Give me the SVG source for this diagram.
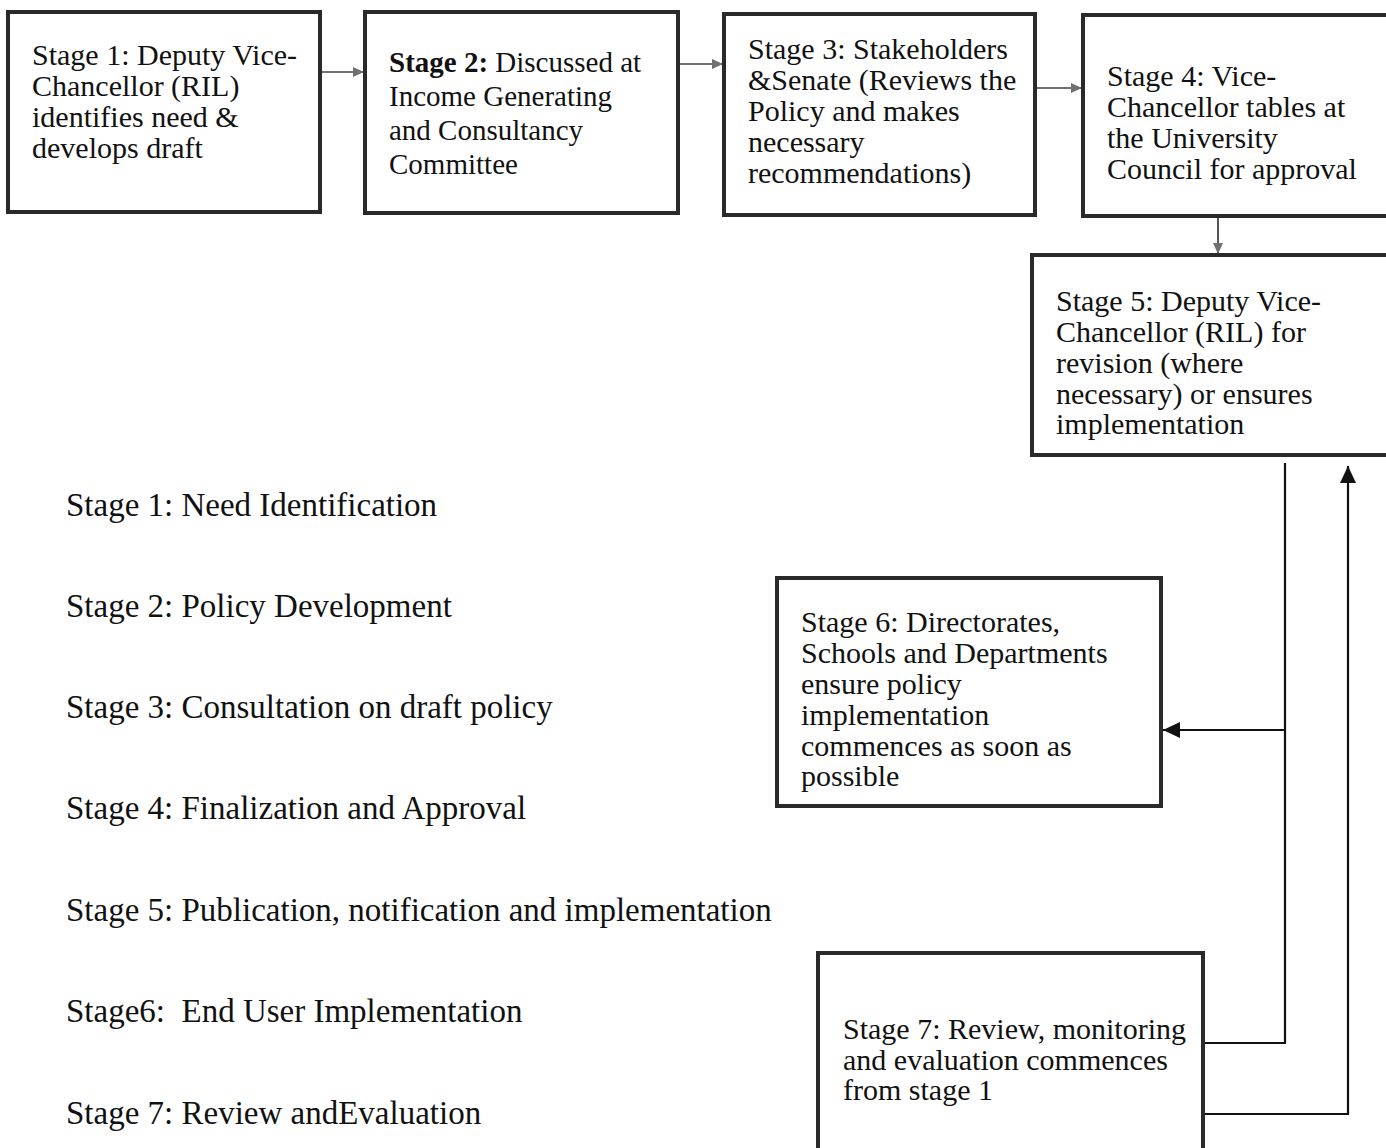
<svg xmlns="http://www.w3.org/2000/svg" width="1386" height="1148" viewBox="0 0 1386 1148">
<defs>
<style>
.box{fill:#fff;stroke:#2a2a2a;stroke-width:4}
.t{font-family:"Liberation Serif",serif;font-size:30px;fill:#111}
.t2{font-family:"Liberation Serif",serif;font-size:29px;fill:#111}
.l{font-family:"Liberation Serif",serif;font-size:33px;fill:#111}
.ga{fill:none;stroke:#707070;stroke-width:1.8}
.ka{fill:none;stroke:#111;stroke-width:2.2}
</style>
<marker id="mg" markerUnits="userSpaceOnUse" markerWidth="12" markerHeight="12" refX="11" refY="6" orient="auto">
<path d="M0,1 L11,6 L0,11 z" fill="#707070"/>
</marker>
<marker id="mk" markerUnits="userSpaceOnUse" markerWidth="18" markerHeight="18" refX="17" refY="9" orient="auto">
<path d="M0,1 L17,9 L0,17 z" fill="#111"/>
</marker>
</defs>
<rect width="1386" height="1148" fill="#fff"/>

<g id="connectors">
<line class="ga" x1="320" y1="72" x2="364" y2="72" marker-end="url(#mg)"/>
<line class="ga" x1="678" y1="64" x2="723" y2="64" marker-end="url(#mg)"/>
<line class="ga" x1="1035" y1="88" x2="1082" y2="88" marker-end="url(#mg)"/>
<line class="ga" x1="1218" y1="216" x2="1218" y2="254" marker-end="url(#mg)" style="stroke:#444"/>
<path class="ka" d="M1285,463 V1043 H1203"/>
<path class="ka" d="M1285,730 H1163" marker-end="url(#mk)"/>
<path class="ka" d="M1203,1114 H1348 V466" marker-end="url(#mk)"/>
</g>

<g id="stage1">
<rect class="box" x="8" y="12" width="312" height="200"/>
<text class="t" x="32"><tspan x="32" y="65">Stage 1: Deputy Vice-</tspan><tspan x="32" y="96">Chancellor (RIL)</tspan><tspan x="32" y="127">identifies need &amp;</tspan><tspan x="32" y="158">develops draft</tspan></text>
</g>

<g id="stage2">
<rect class="box" x="365" y="12" width="313" height="201"/>
<text class="t2"><tspan x="389" y="72"><tspan font-weight="bold">Stage 2:</tspan> Discussed at</tspan><tspan x="389" y="106">Income Generating</tspan><tspan x="389" y="140">and Consultancy</tspan><tspan x="389" y="174">Committee</tspan></text>
</g>

<g id="stage3">
<rect class="box" x="724" y="14" width="311" height="201"/>
<text class="t"><tspan x="748" y="59">Stage 3: Stakeholders</tspan><tspan x="748" y="90">&amp;Senate (Reviews the</tspan><tspan x="748" y="121">Policy and makes</tspan><tspan x="748" y="152">necessary</tspan><tspan x="748" y="183">recommendations)</tspan></text>
</g>

<g id="stage4">
<rect class="box" x="1083" y="15" width="320" height="201"/>
<text class="t"><tspan x="1107" y="86">Stage 4: Vice-</tspan><tspan x="1107" y="117">Chancellor tables at</tspan><tspan x="1107" y="148">the University</tspan><tspan x="1107" y="179">Council for approval</tspan></text>
</g>

<g id="stage5">
<rect class="box" x="1032" y="255" width="370" height="200"/>
<text class="t"><tspan x="1056" y="311">Stage 5: Deputy Vice-</tspan><tspan x="1056" y="342">Chancellor (RIL) for</tspan><tspan x="1056" y="373">revision (where</tspan><tspan x="1056" y="404">necessary) or ensures</tspan><tspan x="1056" y="434">implementation</tspan></text>
</g>

<g id="stage6">
<rect class="box" x="777" y="578" width="384" height="228"/>
<text class="t"><tspan x="801" y="632">Stage 6: Directorates,</tspan><tspan x="801" y="663">Schools and Departments</tspan><tspan x="801" y="694">ensure policy</tspan><tspan x="801" y="725">implementation</tspan><tspan x="801" y="756">commences as soon as</tspan><tspan x="801" y="786">possible</tspan></text>
</g>

<g id="stage7">
<rect class="box" x="818" y="953" width="385" height="210"/>
<text class="t"><tspan x="843" y="1039">Stage 7: Review, monitoring</tspan><tspan x="843" y="1070">and evaluation commences</tspan><tspan x="843" y="1100">from stage 1</tspan></text>
</g>

<g id="legend">
<text class="l" x="66" y="516">Stage 1: Need Identification</text>
<text class="l" x="66" y="617">Stage 2: Policy Development</text>
<text class="l" x="66" y="718">Stage 3: Consultation on draft policy</text>
<text class="l" x="66" y="819">Stage 4: Finalization and Approval</text>
<text class="l" x="66" y="921">Stage 5: Publication, notification and implementation</text>
<text class="l" x="66" y="1022" style="white-space:pre">Stage6:  End User Implementation</text>
<text class="l" x="66" y="1124">Stage 7: Review andEvaluation</text>
</g>
</svg>
